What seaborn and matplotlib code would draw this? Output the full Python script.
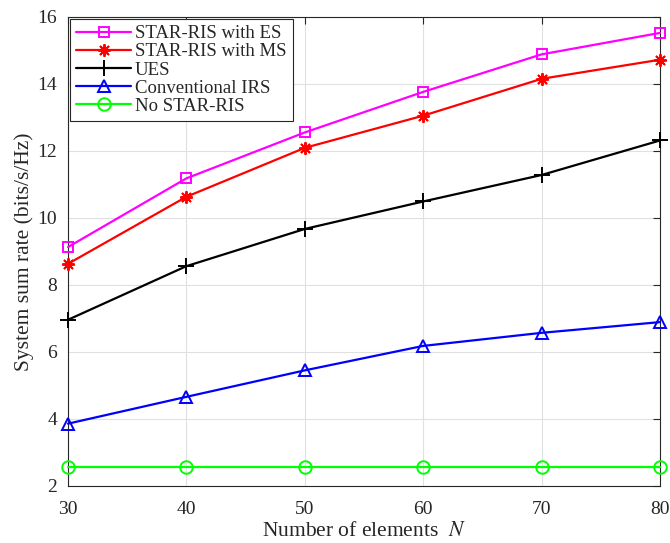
import matplotlib
matplotlib.use('Agg')
import matplotlib.pyplot as plt
import seaborn as sns
import pandas as pd

# number of reflecting elements
N = [30, 40, 50, 60, 70, 80]

es = [9.13, 11.18, 12.55, 13.76, 14.88, 15.52]
ms = [8.63, 10.63, 12.09, 13.05, 14.15, 14.72]
ues = [6.96, 8.56, 9.67, 10.49, 11.28, 12.31]
irs = [3.86, 4.66, 5.45, 6.18, 6.57, 6.89]
no_star = [2.58, 2.58, 2.58, 2.58, 2.58, 2.58]

labels = ['STAR-RIS with ES', 'STAR-RIS with MS', 'UES', 'Conventional IRS', 'No STAR-RIS']
colors = ['#ff00ff', '#ff0000', '#000000', '#0000ff', '#00ff00']
markers = ['s', (8, 2, 0), '+', '^', 'o']
msizes = [7, 9, 11, 9, 9]

sns.set_style('whitegrid')
plt.rcParams['font.family'] = ['Liberation Serif', 'DejaVu Serif']
plt.rcParams['mathtext.fontset'] = 'stix'

fig = plt.figure(figsize=(6.7, 5.43), dpi=100)
ax = fig.add_axes([0.1015, 0.105, 0.8835, 0.864])

for lab, vals, c, m, s in zip(labels, [es, ms, ues, irs, no_star], colors, markers, msizes):
    df = pd.DataFrame({'N': N, 'rate': vals})
    sns.lineplot(data=df, x='N', y='rate', ax=ax, color=c, marker=m, markersize=s,
                 markerfacecolor='none', markeredgecolor=c, markeredgewidth=1.4,
                 linewidth=1.6, label=lab, clip_on=False, zorder=3)

ax.set_xlim(30, 80)
ax.set_ylim(2, 16)
ax.set_xticks([30, 40, 50, 60, 70, 80])
ax.set_yticks([2, 4, 6, 8, 10, 12, 14, 16])
ax.grid(True, color='#e0e0e0', linewidth=0.8)
for sp in ax.spines.values():
    sp.set_color('#262626')
    sp.set_linewidth(0.8)
ax.tick_params(direction='in', length=5, width=0.8, top=True, right=True,
               labelsize=14, colors='#262626', labelcolor='#262626')
ax.tick_params(axis='x', pad=11)
ax.tick_params(axis='y', pad=8)
ax.set_xlabel('Number of elements  $N$', fontsize=15.5, color='#262626', labelpad=3)
ax.set_ylabel('System sum rate (bits/s/Hz)', fontsize=15.5, color='#262626', labelpad=2)

leg = ax.legend(loc='upper left', fontsize=13.5, frameon=True, fancybox=False,
                borderaxespad=0.1, handlelength=2.9, labelspacing=0.05,
                borderpad=0.35, handletextpad=0.2)
leg.get_frame().set_edgecolor('#262626')
leg.get_frame().set_linewidth(0.8)
leg.get_frame().set_alpha(1)

fig.savefig('out.png', dpi=100)
